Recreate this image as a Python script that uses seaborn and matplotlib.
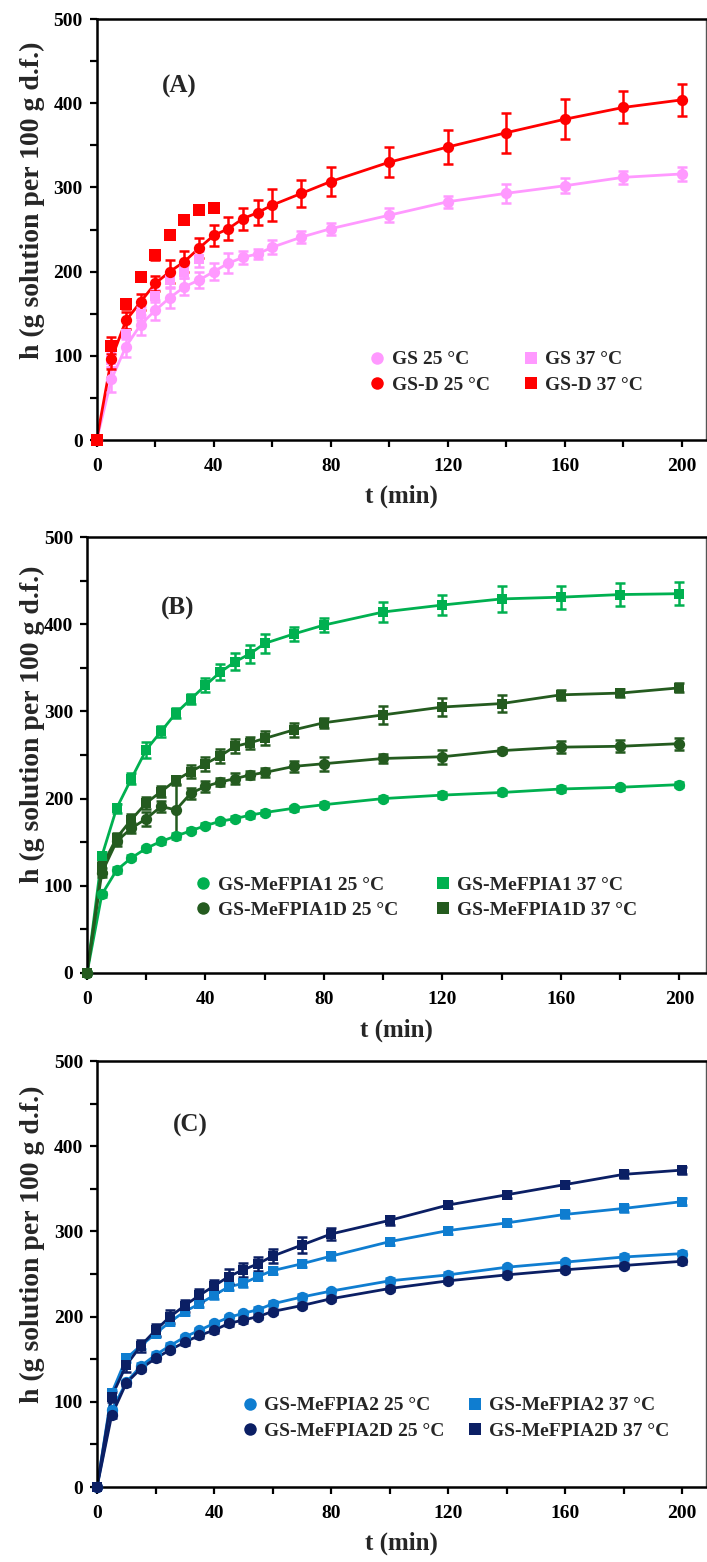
import numpy as np
import matplotlib
matplotlib.use("Agg")
import matplotlib.pyplot as plt
from matplotlib.lines import Line2D
import seaborn as sns

# ---------------- data ----------------
t_full = [0, 5, 10, 15, 20, 25, 30, 35, 40, 45, 50, 55, 60, 70, 80, 100, 120, 140, 160, 180, 200]

# Panel A
gs25 = [0, 72, 111, 137, 154, 169, 182, 190, 200, 210, 217, 221, 229, 241, 251, 267, 283, 293, 302, 312, 316]
gs25_err = [0, 15, 12, 12, 12, 12, 10, 10, 10, 12, 8, 6, 8, 7, 7, 8, 7, 11, 9, 8, 8]
gsd25 = [0, 96, 142, 164, 186, 200, 212, 228, 243, 251, 263, 270, 279, 293, 307, 330, 348, 365, 381, 395, 404]
gsd25_err = [0, 12, 10, 10, 9, 14, 12, 12, 12, 14, 13, 15, 19, 16, 17, 18, 20, 24, 24, 19, 19]
t_gs37 = [0, 5, 10, 15, 20, 25, 30, 35]
gs37 = [0, 95, 126, 150, 171, 190, 200, 215]
gs37_err = [0, 8, 6, 8, 7, 8, 8, 10]
t_gsd37 = [0, 5, 10, 15, 20, 25, 30, 35, 40]
gsd37 = [0, 112, 162, 194, 220, 244, 261, 273, 276]
gsd37_err = [0, 10, 6, 5, 6, 4, 4, 4, 4]

# Panel B
m1_25 = [0, 90, 118, 132, 143, 151, 157, 163, 169, 174, 177, 181, 184, 189, 193, 200, 204, 207, 211, 213, 216]
m1_25_err = [0, 3, 3, 3, 3, 3, 3, 3, 3, 3, 3, 3, 3, 3, 3, 3, 3, 3, 3, 3, 3]
m1_37 = [0, 134, 189, 223, 256, 277, 298, 314, 330, 345, 357, 366, 378, 389, 399, 414, 422, 429, 431, 434, 435]
m1_37_err = [0, 5, 5, 6, 9, 6, 6, 6, 8, 9, 10, 10, 11, 8, 8, 11, 12, 15, 13, 13, 13]
m1d_25 = [0, 115, 151, 166, 177, 191, 187, 206, 214, 219, 223, 227, 230, 237, 240, 246, 248, 255, 259, 260, 263]
m1d_25_err = [0, 5, 5, 6, 8, 6, 30, 6, 6, 5, 6, 5, 5, 6, 8, 5, 8, 3, 7, 7, 7]
m1d_37 = [0, 122, 155, 176, 195, 208, 221, 231, 240, 249, 260, 264, 269, 279, 287, 296, 305, 309, 319, 321, 327]
m1d_37_err = [0, 6, 6, 6, 7, 6, 5, 7, 8, 8, 8, 7, 8, 8, 6, 10, 10, 10, 6, 5, 5]

# Panel C
m2_25 = [0, 90, 123, 142, 155, 166, 176, 184, 192, 199, 204, 208, 215, 223, 230, 242, 249, 258, 264, 270, 274]
m2_25_err = [0, 3, 3, 3, 3, 3, 3, 3, 3, 3, 3, 3, 3, 3, 3, 3, 3, 3, 3, 3, 3]
m2_37 = [0, 110, 151, 166, 180, 194, 206, 215, 225, 235, 239, 247, 254, 262, 271, 288, 301, 310, 320, 327, 335]
m2_37_err = [0, 4, 4, 4, 4, 4, 4, 4, 4, 4, 4, 4, 4, 4, 4, 4, 4, 4, 4, 4, 4]
m2d_25 = [0, 84, 122, 139, 151, 161, 170, 178, 184, 192, 196, 200, 206, 213, 221, 233, 242, 249, 255, 260, 265]
m2d_25_err = [0, 3, 3, 3, 3, 3, 3, 3, 3, 3, 3, 3, 3, 3, 3, 3, 3, 3, 3, 3, 3]
m2d_37 = [0, 106, 143, 166, 184, 200, 213, 225, 236, 247, 255, 262, 271, 284, 297, 313, 331, 343, 355, 367, 372]
m2d_37_err = [0, 6, 8, 7, 7, 8, 7, 8, 7, 9, 8, 8, 8, 9, 7, 5, 4, 4, 4, 4, 4]

y_ticks = [0, 50, 100, 150, 200, 250, 300, 350, 400, 450, 500]
x_ticks = [0, 20, 40, 60, 80, 100, 120, 140, 160, 180, 200]

PINK = "#ff99ff"
RED = "#ff0000"
LGREEN = "#00b050"
DGREEN = "#245b1f"
LBLUE = "#0f7dd0"
NAVY = "#0b1f64"

# ---------------- style ----------------
sns.set_theme(style="ticks")
plt.rcParams["font.family"] = ["Liberation Serif", "DejaVu Serif"]
plt.rcParams["font.weight"] = "bold"
plt.rcParams["axes.labelweight"] = "bold"

fig = plt.figure(figsize=(7.07, 15.62), dpi=100)

ax_pos = {
    "A": [0.1368, 0.7183, 0.8618, 0.2695],
    "B": [0.1231, 0.3771, 0.8755, 0.2791],
    "C": [0.1372, 0.0480, 0.8614, 0.2727],
}
xlims = {"A": 208.3, "B": 209.0, "C": 208.2}


def draw_series(ax, t, y, err, color, marker, line=True, size=None):
    if size is None:
        size = 66 if marker == "o" else 56
    if line:
        sns.lineplot(x=t, y=y, ax=ax, color=color, linewidth=2.0, sort=False,
                     legend=False, zorder=2)
    ax.errorbar(t, y, yerr=err, fmt="none", ecolor=color, elinewidth=1.8,
                capsize=3.5, capthick=1.8, zorder=3)
    sns.scatterplot(x=t, y=y, ax=ax, color=color, marker=marker, s=size,
                    linewidth=0, legend=False, zorder=4, clip_on=False)


def style_axes(ax, key, label, ylab_x):
    ax.set_xlim(0, xlims[key])
    ax.set_ylim(0, 500)
    ax.set_yticks(y_ticks)
    ax.set_yticklabels([str(v) if v % 100 == 0 else "" for v in y_ticks])
    ax.set_xticks(x_ticks)
    ax.set_xticklabels([str(v) if v % 40 == 0 else "" for v in x_ticks])
    ax.tick_params(axis="both", direction="out", length=5, width=1.6,
                   labelsize=14, color="black", labelcolor="black")
    ax.tick_params(axis="x", pad=8)
    ax.tick_params(axis="y", pad=5)
    for lab in ax.get_xticklabels() + ax.get_yticklabels():
        lab.set_fontweight("bold")
    for s in ["left", "bottom", "top"]:
        ax.spines[s].set_linewidth(1.8)
        ax.spines[s].set_color("black")
    ax.spines["right"].set_linewidth(1.0)
    ax.spines["right"].set_color("#555555")
    ax.set_xlabel("t (min)", fontsize=18, fontweight="bold", labelpad=2)
    ax.set_ylabel("h (g solution per 100 g d.f.)", fontsize=20, fontweight="bold")
    ax.yaxis.set_label_coords(ylab_x, 0.57)
    ax.xaxis.set_label_coords(0.5, -0.105)
    ax.text(label[1], label[2], label[0], transform=ax.transAxes, fontsize=18,
            fontweight="bold", ha="center", va="center")
    ax.set_facecolor("white")


def add_legend(ax, items, anchor, colspace):
    handles = [Line2D([0], [0], linestyle="none", marker=m, color=c,
                      markersize=9 if m == "o" else 8, markeredgewidth=0)
               for (_, c, m) in items]
    labels = [lab for (lab, _, _) in items]
    leg = ax.legend(handles, labels, ncol=2, loc="upper left",
                    bbox_to_anchor=anchor, frameon=False, fontsize=14,
                    handlelength=0.6, handletextpad=0.45, labelspacing=0.4,
                    columnspacing=colspace, borderpad=0, borderaxespad=0)
    for txt in leg.get_texts():
        txt.set_fontweight("bold")


# ---------------- Panel A ----------------
axA = fig.add_axes(ax_pos["A"])
draw_series(axA, t_full, gs25, gs25_err, PINK, "o")
draw_series(axA, t_gs37, gs37, gs37_err, PINK, "s", line=False)
draw_series(axA, t_full, gsd25, gsd25_err, RED, "o")
draw_series(axA, t_gsd37, gsd37, gsd37_err, RED, "s", line=False, size=64)
style_axes(axA, "A", ("(A)", 0.136, 0.84), -0.085)
add_legend(axA, [("GS 25 °C", PINK, "o"), ("GS-D 25 °C", RED, "o"),
                 ("GS 37 °C", PINK, "s"), ("GS-D 37 °C", RED, "s")],
           (0.451, 0.212), 1.8)

# ---------------- Panel B ----------------
axB = fig.add_axes(ax_pos["B"])
draw_series(axB, t_full, m1_25, m1_25_err, LGREEN, "o")
draw_series(axB, t_full, m1_37, m1_37_err, LGREEN, "s")
draw_series(axB, t_full, m1d_25, m1d_25_err, DGREEN, "o")
draw_series(axB, t_full, m1d_37, m1d_37_err, DGREEN, "s")
style_axes(axB, "B", ("(B)", 0.147, 0.836), -0.068)
add_legend(axB, [("GS-MeFPIA1 25 °C", LGREEN, "o"), ("GS-MeFPIA1D 25 °C", DGREEN, "o"),
                 ("GS-MeFPIA1 37 °C", LGREEN, "s"), ("GS-MeFPIA1D 37 °C", DGREEN, "s")],
           (0.178, 0.222), 2.0)

# ---------------- Panel C ----------------
axC = fig.add_axes(ax_pos["C"])
draw_series(axC, t_full, m2_25, m2_25_err, LBLUE, "o")
draw_series(axC, t_full, m2_37, m2_37_err, LBLUE, "s")
draw_series(axC, t_full, m2d_25, m2d_25_err, NAVY, "o")
draw_series(axC, t_full, m2d_37, m2d_37_err, NAVY, "s")
style_axes(axC, "C", ("(C)", 0.153, 0.85), -0.085)
add_legend(axC, [("GS-MeFPIA2 25 °C", LBLUE, "o"), ("GS-MeFPIA2D 25 °C", NAVY, "o"),
                 ("GS-MeFPIA2 37 °C", LBLUE, "s"), ("GS-MeFPIA2D 37 °C", NAVY, "s")],
           (0.241, 0.212), 1.25)

fig.savefig("out.png", dpi=100, facecolor="white")
